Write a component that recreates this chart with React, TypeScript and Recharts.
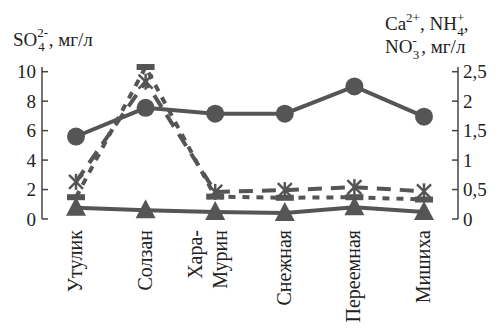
import { ComposedChart, Line, XAxis, YAxis } from 'recharts';

const categories = ['Утулик', 'Солзан', 'Хара-Мурин', 'Снежная', 'Переемная', 'Мишиха'];
const so4 = [5.6, 7.55, 7.15, 7.15, 9.0, 6.95];
const ca = [0.63, 2.33, 0.46, 0.49, 0.54, 0.47];
const nh4 = [0.37, 2.58, 0.38, 0.36, 0.37, 0.33];
const no3 = [0.19, 0.15, 0.12, 0.1, 0.2, 0.12];
const leftTicks = [0, 2, 4, 6, 8, 10];
const rightTicks = [0, 0.5, 1, 1.5, 2, 2.5];
const edgeTicks = [1, 2, 3, 4, 5];

const data = categories.map((name, i) => ({
  name,
  so4: so4[i],
  ca: ca[i],
  nh4: nh4[i],
  no3: no3[i],
}));

const INK = '#555';
const AXIS = '#444';
const tickFont = { fontSize: 19, fill: '#222' };

// rotated station names, the double name is split in two lines
const CatTick = (props: any) => {
  const { x, y, payload } = props;
  const label: string = payload.value;
  const cut = label.indexOf('-');
  const lines = cut >= 0 ? [label.slice(0, cut + 1), label.slice(cut + 1)] : [label];
  const offs = lines.length > 1 ? [-20, 5] : [-1];
  const top = y + 11;
  return (
    <g>
      {lines.map((t, i) => (
        <text
          key={i}
          x={x + offs[i] + 7}
          y={top}
          textAnchor="end"
          transform={`rotate(-90 ${x + offs[i] + 7} ${top})`}
          fontSize={20}
          fill="#222"
        >
          {t}
        </text>
      ))}
    </g>
  );
};

const CircleDot = ({ cx, cy }: any) => <circle cx={cx} cy={cy} r={9} fill={INK} />;

const StarDot = ({ cx, cy }: any) => (
  <g stroke={INK} strokeWidth={2.5}>
    <line x1={cx} x2={cx} y1={cy - 8} y2={cy + 8} />
    <line x1={cx - 7} x2={cx + 7} y1={cy - 7} y2={cy + 7} />
    <line x1={cx - 7} x2={cx + 7} y1={cy + 7} y2={cy - 7} />
  </g>
);

const BarDot = ({ cx, cy }: any) => <rect x={cx - 9} y={cy - 3} width={18} height={6} fill={INK} />;

const TriDot = ({ cx, cy }: any) => (
  <polygon points={`${cx},${cy - 11} ${cx + 10},${cy + 8} ${cx - 10},${cy + 8}`} fill={INK} />
);

export default function App() {
  return (
    <div style={{ position: 'absolute', left: 0, top: 0, width: 497, height: 329, background: '#fff' }}>
      <ComposedChart width={497} height={329} data={data} margin={{ top: 67, right: 0, bottom: 0, left: 0 }}>
        <XAxis
          xAxisId="edges"
          type="number"
          domain={[0, 6]}
          ticks={edgeTicks}
          height={0}
          tick={false}
          tickSize={-7}
          stroke={AXIS}
          strokeWidth={1.5}
        />
        <XAxis
          dataKey="name"
          scale="point"
          padding={{ left: 34, right: 34 }}
          height={110}
          axisLine={false}
          tickLine={false}
          tickSize={0}
          tickMargin={0}
          interval={0}
          tick={CatTick}
        />
        <YAxis
          yAxisId="left"
          domain={[0, 10.32]}
          ticks={leftTicks}
          width={42}
          tickSize={-6}
          tickMargin={12}
          stroke={AXIS}
          strokeWidth={1.5}
          tick={tickFont}
        />
        <YAxis
          yAxisId="right"
          orientation="right"
          domain={[0, 2.58]}
          ticks={rightTicks}
          width={39}
          tickSize={-6}
          tickMargin={11}
          stroke={AXIS}
          strokeWidth={1.5}
          tick={tickFont}
          tickFormatter={(v: number) => String(v).replace('.', ',')}
        />
        <Line yAxisId="right" dataKey="nh4" stroke={INK} strokeWidth={4} strokeDasharray="7 7" dot={BarDot} isAnimationActive={false} />
        <Line yAxisId="right" dataKey="ca" stroke={INK} strokeWidth={4} strokeDasharray="14 9" dot={StarDot} isAnimationActive={false} />
        <Line yAxisId="right" dataKey="no3" stroke={INK} strokeWidth={4} dot={TriDot} isAnimationActive={false} />
        <Line yAxisId="left" dataKey="so4" stroke={INK} strokeWidth={4} dot={CircleDot} isAnimationActive={false} />
      </ComposedChart>
      <svg width={497} height={329} style={{ position: 'absolute', left: 0, top: 0, pointerEvents: 'none' }}>
        <text x={13} y={46} fontSize={19} fill="#222">
          SO
          <tspan fontSize={13} dy={-9}>2-</tspan>
          <tspan fontSize={13} dx={-10} dy={14}>4</tspan>
          <tspan fontSize={19} dx={4} dy={-5}>, мг/л</tspan>
        </text>
        <text x={385} y={30} fontSize={19} fill="#222">
          Ca
          <tspan fontSize={13} dy={-8}>2+</tspan>
          <tspan fontSize={19} dy={8}>, NH</tspan>
          <tspan fontSize={13} dy={-8}>+</tspan>
          <tspan fontSize={13} dx={-7} dy={14}>4</tspan>
          <tspan fontSize={19} dy={-6}>,</tspan>
        </text>
        <text x={385} y={53} fontSize={19} fill="#222">
          NO
          <tspan fontSize={13} dy={-8}>-</tspan>
          <tspan fontSize={13} dx={-4} dy={14}>3</tspan>
          <tspan fontSize={19} dx={2} dy={-6}>, мг/л</tspan>
        </text>
      </svg>
    </div>
  );
}
